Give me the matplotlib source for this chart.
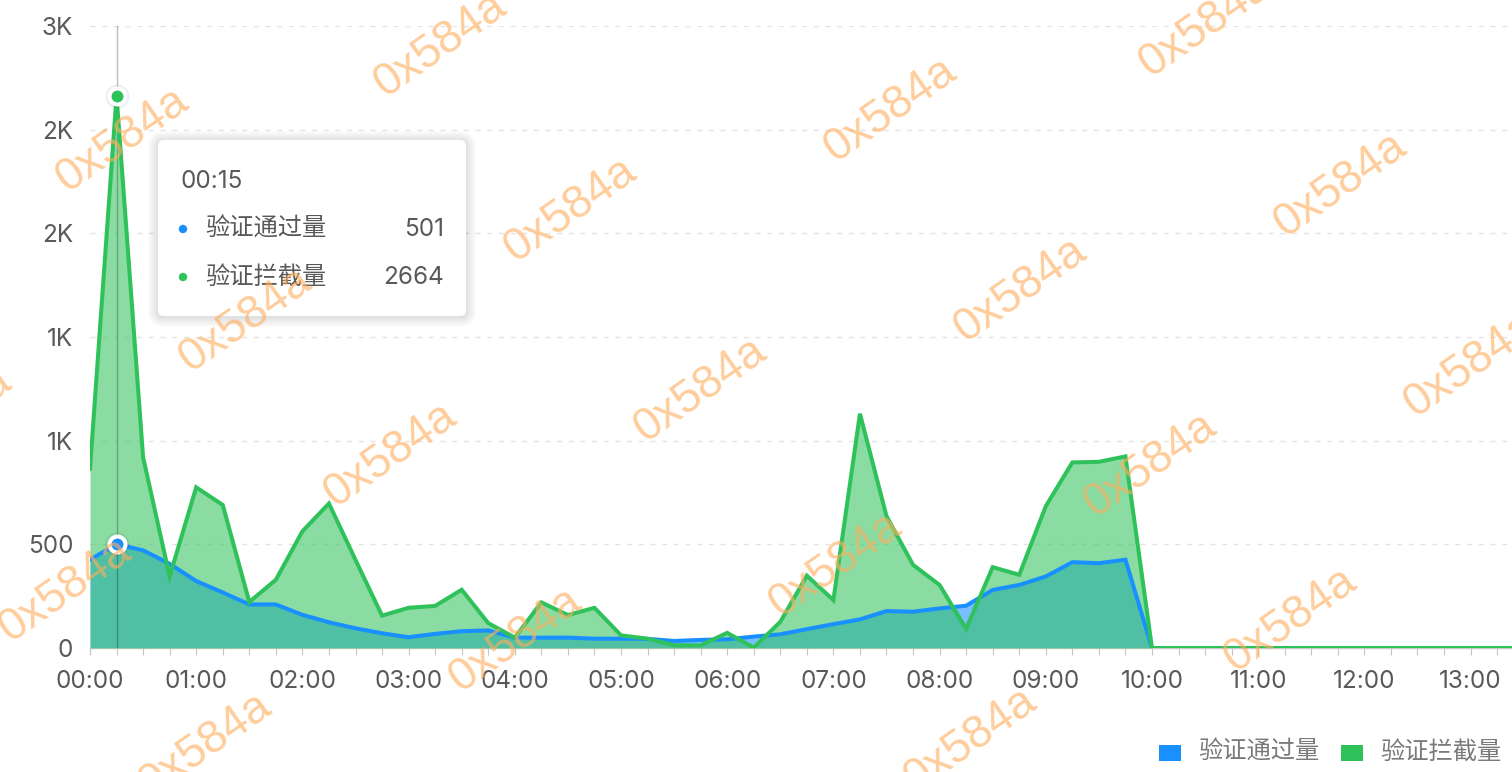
import numpy as np
import matplotlib
matplotlib.use("Agg")
import matplotlib.pyplot as plt
from matplotlib.patches import FancyBboxPatch, Rectangle, Circle
from matplotlib.transforms import Affine2D

plt.rcParams['font.family'] = ['Inter', 'Noto Sans CJK SC', 'DejaVu Sans']

# ---------------- data ----------------
times = ["00:00", "00:15", "00:30", "00:45", "01:00", "01:15", "01:30", "01:45",
         "02:00", "02:15", "02:30", "02:45", "03:00", "03:15", "03:30", "03:45",
         "04:00", "04:15", "04:30", "04:45", "05:00", "05:15", "05:30", "05:45",
         "06:00", "06:15", "06:30", "06:45", "07:00", "07:15", "07:30", "07:45",
         "08:00", "08:15", "08:30", "08:45", "09:00", "09:15", "09:30", "09:45",
         "10:00", "10:15", "10:30", "10:45", "11:00", "11:15", "11:30", "11:45",
         "12:00", "12:15", "12:30", "12:45", "13:00", "13:15", "13:30"]

passed = [426, 501, 471, 406, 323, 268, 210, 210, 160, 124, 95, 71, 52, 68, 81, 85,
          50, 50, 50, 45, 45, 44, 34, 39, 42, 55, 66, 91, 115, 138, 178, 175,
          191, 204, 280, 304, 345, 414, 409, 426,
          0, 0, 0, 0, 0, 0, 0, 0, 0, 0, 0, 0, 0, 0, 0]

blocked = [865, 2664, 920, 345, 775, 690, 222, 329, 563, 697, 425, 156, 194, 203, 281, 120,
           50, 220, 159, 194, 61, 45, 13, 13, 73, 2, 126, 349, 231, 1130, 636, 401,
           304, 92, 390, 353, 684, 895, 898, 924,
           0, 0, 0, 0, 0, 0, 0, 0, 0, 0, 0, 0, 0, 0, 0]

series_names = ["验证通过量", "验证拦截量"]
ytick_values = [0, 500, 1000, 1500, 2000, 2500, 3000]
ytick_labels = ["0", "500", "1K", "1K", "2K", "2K", "3K"]
tooltip_time = "00:15"
tooltip_values = [501, 2664]
watermark = "0x584a"

BLUE = "#1890FF"
GREEN = "#2FC25B"
TXT = "#595959"
FS = 17.5

W, H = 1512, 772
fig = plt.figure(figsize=(W / 100, H / 100), dpi=100)
px = Affine2D().scale(1 / W, 1 / H) + fig.transFigure  # pixel coords (origin bottom-left)


def Y(y):
    return H - y


ax = fig.add_axes([90 / W, (H - 648) / H, (W - 90) / W, (648 - 26) / H])
x = np.arange(len(times))
hover = times.index(tooltip_time)

ax.fill_between(x, passed, 0, color=BLUE, alpha=0.58, lw=0, zorder=2)
ax.fill_between(x, blocked, 0, color=GREEN, alpha=0.56, lw=0, zorder=3)
ax.plot([hover, hover], [0, 3000], color="black", alpha=0.25, lw=1.0, zorder=4)
ax.plot(x, passed, color=BLUE, lw=2.9, solid_joinstyle="miter", zorder=5)
ax.plot(x, blocked, color=GREEN, lw=2.9, solid_joinstyle="miter", zorder=6)

for val, col in zip(tooltip_values, [BLUE, GREEN]):
    ax.plot(hover, val, "o", ms=17, color="black", alpha=0.07, mew=0, zorder=7, clip_on=False)
    ax.plot(hover, val, "o", ms=11.5, mfc=col, mec="white", mew=2.9, zorder=8, clip_on=False)

ax.set_yticks(ytick_values)
ax.set_yticklabels(ytick_labels)
ax.set_xticks(x)
ax.set_xticklabels([t if i % 4 == 0 else "" for i, t in enumerate(times)])
ax.set_xlim(0, 1422 / 26.55)
ax.set_ylim(0, 3000)
ax.tick_params(axis="y", length=0, pad=12, labelsize=FS, labelcolor=TXT)
ax.tick_params(axis="x", length=5, width=0.8, color="#c4c4c4", pad=10.5,
               labelsize=FS, labelcolor=TXT)
ax.yaxis.grid(True, color="#e3e3e3", lw=1.0, linestyle=(0, (3.6, 4.8)), zorder=0)
ax.set_axisbelow(True)
for s in ["left", "top", "right"]:
    ax.spines[s].set_visible(False)
ax.spines["bottom"].set_color("#c8c8c8")
ax.spines["bottom"].set_linewidth(1.0)

# ---------------- tooltip ----------------
x0, y0, x1, y1 = 158, 140, 466, 316
for k in range(1, 11):
    fig.patches.append(FancyBboxPatch((x0 - k, Y(y1) - k - 1), (x1 - x0) + 2 * k, (y1 - y0) + 2 * k,
                                      boxstyle="round,pad=0,rounding_size=%d" % (6 + k),
                                      transform=px, fc="black", ec="none", alpha=0.012, zorder=40))
fig.patches.append(FancyBboxPatch((x0, Y(y1)), x1 - x0, y1 - y0,
                                  boxstyle="round,pad=0,rounding_size=6",
                                  transform=px, fc="white", ec="none", zorder=41))
fig.text(180, Y(181), tooltip_time, transform=px, fontsize=FS, color=TXT,
         ha="left", va="center", zorder=42)
for name, val, col, yy in zip(series_names, tooltip_values, [BLUE, GREEN], [229, 277]):
    fig.patches.append(Circle((183, Y(yy)), 4.2, transform=px, fc=col, ec="none", zorder=42))
    fig.text(205, Y(yy), name, transform=px, fontsize=FS, color=TXT,
             ha="left", va="center", zorder=42)
    fig.text(444, Y(yy), str(val), transform=px, fontsize=FS, color=TXT,
             ha="right", va="center", zorder=42)

# ---------------- legend ----------------
for name, col, rx, tx in zip(series_names, [BLUE, GREEN], [1159, 1341], [1198, 1380]):
    fig.patches.append(Rectangle((rx, Y(760.5)), 22, 15.5, transform=px, fc=col, ec="none", zorder=30))
    fig.text(tx, Y(752), name, transform=px, fontsize=FS, color="#7a7a7a",
             ha="left", va="center", zorder=30)

# ---------------- watermark ----------------
wm_centers = [(122, 140), (440, 45), (890, 110), (1205, 25), (570, 210), (1340, 185),
              (245, 320), (1020, 290), (1470, 365), (700, 390), (-55, 420), (390, 455),
              (1150, 465), (835, 565), (65, 590), (515, 640), (1290, 620), (205, 745),
              (970, 740), (1425, 825)]
for cx, cy in wm_centers:
    fig.text(cx, Y(cy), watermark, transform=px, fontsize=33, color="#FFAE5E", alpha=0.62,
             family="Liberation Sans", rotation=35, rotation_mode="anchor",
             ha="center", va="center", zorder=100)

fig.savefig("out.png", dpi=100)
